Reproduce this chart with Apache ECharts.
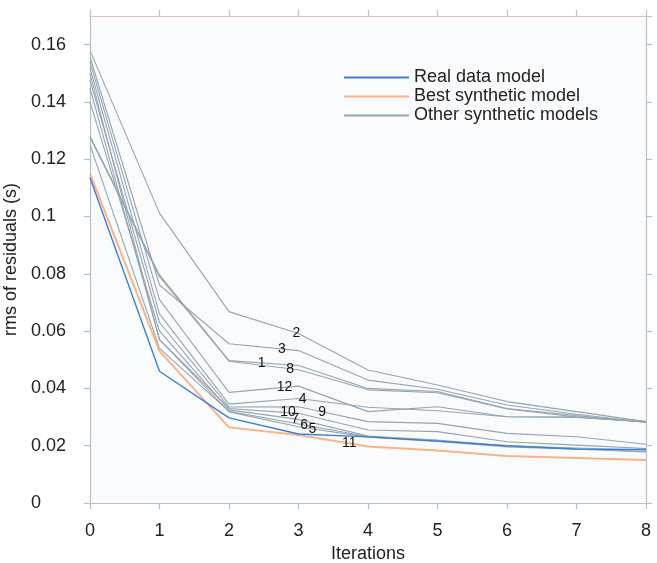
<!DOCTYPE html>
<html>
<head>
<meta charset="utf-8">
<script src="https://cdn.jsdelivr.net/npm/echarts@6/dist/echarts.min.js"></script>
<style>
  html, body { margin: 0; padding: 0; background: #ffffff; }
  #chart { width: 657px; height: 563px; }
</style>
</head>
<body>
<div id="chart"></div>
<script>
// Inversion iterations on the x axis
const iterations = [0, 1, 2, 3, 4, 5, 6, 7, 8];

// rms of residuals (s) for the model built from real data
const realData = [0.1135, 0.046, 0.0297, 0.0241, 0.0231, 0.0216, 0.0200, 0.0188, 0.0187];

// best synthetic model (model 11)
const bestSynthetic = [0.115, 0.053, 0.0264, 0.0237, 0.0197, 0.0183, 0.0164, 0.0157, 0.0150];

// remaining synthetic models
const model1  = [0.128, 0.0796, 0.0497, 0.0480, 0.0400, 0.0389, 0.0330, 0.0305, 0.0282];
const model2  = [0.158, 0.1012, 0.0668, 0.0592, 0.0464, 0.0412, 0.0354, 0.0319, 0.0284];
const model3  = [0.1557, 0.0761, 0.0556, 0.0532, 0.0429, 0.0397, 0.0342, 0.0310, 0.0282];
const model4  = [0.1518, 0.0660, 0.0345, 0.0365, 0.0334, 0.0322, 0.0301, 0.0299, 0.0284];
const model5  = [0.150, 0.0570, 0.0318, 0.0266, 0.0230, 0.0215, 0.0196, 0.0188, 0.0178];
const model6  = [0.125, 0.0540, 0.0320, 0.0276, 0.0232, 0.0218, 0.0198, 0.0190, 0.0180];
const model7  = [0.140, 0.0600, 0.0325, 0.0292, 0.0234, 0.0220, 0.0200, 0.0192, 0.0185];
const model8  = [0.1277, 0.0790, 0.0495, 0.0465, 0.0395, 0.0385, 0.0328, 0.0300, 0.0282];
const model9  = [0.1476, 0.0630, 0.0335, 0.0336, 0.0284, 0.0278, 0.0243, 0.0231, 0.0205];
const model10 = [0.1448, 0.0570, 0.0330, 0.0313, 0.0255, 0.0249, 0.0214, 0.0202, 0.0190];
const model12 = [0.154, 0.0710, 0.0386, 0.0408, 0.0319, 0.0336, 0.0301, 0.0300, 0.0284];

const otherModels = [
  [1, model1], [2, model2], [3, model3], [4, model4], [5, model5], [6, model6],
  [7, model7], [8, model8], [9, model9], [10, model10], [12, model12]
];

// iteration at which each model's number is written on its curve
const labelAt = { 1: 2.47, 2: 2.97, 3: 2.76, 4: 3.06, 5: 3.2, 6: 3.08, 7: 2.95,
                  8: 2.88, 9: 3.34, 10: 2.85, 11: 3.73, 12: 2.8 };

const yTicks = { min: 0, max: 0.17, step: 0.02 };

const FONT = 'Liberation Sans, Arial, Helvetica, sans-serif';
const AXIS_COLOR = '#b7c1cb';
const TOP_COLOR = '#d8c6bd';
const TEXT_COLOR = '#222222';

// value of a curve between two iterations, for placing its number
function valueAt(values, x) {
  const i = Math.min(Math.floor(x), values.length - 2);
  const t = x - i;
  return values[i] + (values[i + 1] - values[i]) * t;
}

function pairs(values) {
  return iterations.map((it, i) => [it, values[i]]);
}

function numberMark(id, values) {
  const x = labelAt[id];
  return {
    symbol: 'circle',
    symbolSize: 0,
    silent: true,
    label: {
      show: true,
      position: 'inside',
      formatter: String(id),
      fontFamily: FONT,
      fontSize: 14,
      color: '#111'
    },
    data: [{ coord: [x, valueAt(values, x)] }]
  };
}

const series = [];
otherModels.forEach(([id, values]) => {
  series.push({
    name: 'Other synthetic models',
    type: 'line',
    data: pairs(values),
    symbol: 'none',
    lineStyle: { color: '#94a5b1', width: 1.1 },
    itemStyle: { color: '#94a5b1' },
    emphasis: { disabled: true },
    markPoint: numberMark(id, values),
    z: 2
  });
});
series.push({
  name: 'Best synthetic model',
  type: 'line',
  data: pairs(bestSynthetic),
  symbol: 'none',
  lineStyle: { color: '#f8b387', width: 2 },
  itemStyle: { color: '#f8b387' },
  emphasis: { disabled: true },
  markPoint: numberMark(11, bestSynthetic),
  z: 3
});
series.push({
  name: 'Real data model',
  type: 'line',
  data: pairs(realData),
  symbol: 'none',
  lineStyle: { color: '#3a7fd6', width: 1.4 },
  itemStyle: { color: '#3a7fd6' },
  emphasis: { disabled: true },
  z: 4
});

function axisStyle(color) {
  return {
    axisLine: { show: true, onZero: false, lineStyle: { color: color, width: 1.2 } },
    axisTick: { show: true, inside: false, length: 6, lineStyle: { color: AXIS_COLOR, width: 1.2 } },
    splitLine: { show: false }
  };
}

const chart = echarts.init(document.getElementById('chart'), null, { renderer: 'canvas' });
chart.setOption({
  backgroundColor: '#ffffff',
  animation: false,
  textStyle: { fontFamily: FONT },
  grid: {
    left: 90, right: 11, top: 16, bottom: 60,
    outerBoundsMode: 'none',
    containLabel: false,
    show: true, backgroundColor: '#fafbfd', borderWidth: 0
  },
  legend: {
    data: ['Real data model', 'Best synthetic model', 'Other synthetic models'],
    orient: 'vertical',
    left: 344,
    top: 68,
    padding: 0,
    itemGap: 0,
    itemWidth: 65,
    itemHeight: 2,
    icon: 'rect',
    selectedMode: false,
    textStyle: { fontFamily: FONT, fontSize: 18, color: TEXT_COLOR, lineHeight: 19 }
  },
  xAxis: [
    Object.assign({
      type: 'value', min: 0, max: 8, interval: 1,
      position: 'bottom',
      name: 'Iterations',
      nameLocation: 'middle',
      nameGap: 33,
      nameTextStyle: { fontFamily: FONT, fontSize: 18, color: TEXT_COLOR },
      axisLabel: { fontFamily: FONT, fontSize: 18, color: TEXT_COLOR, margin: 19 }
    }, axisStyle(AXIS_COLOR)),
    Object.assign({
      type: 'value', min: 0, max: 8, interval: 1,
      position: 'top',
      axisLabel: { show: false }
    }, axisStyle(TOP_COLOR))
  ],
  yAxis: [
    Object.assign({
      type: 'value', min: yTicks.min, max: yTicks.max, interval: yTicks.step,
      position: 'left',
      name: 'rms of residuals (s)',
      nameLocation: 'middle',
      nameGap: 68,
      nameTextStyle: { fontFamily: FONT, fontSize: 18, color: TEXT_COLOR },
      axisLabel: {
        fontFamily: FONT, fontSize: 18, color: TEXT_COLOR, margin: 59,
        align: 'left',
        showMaxLabel: false,
        formatter: v => String(+v.toFixed(2))
      }
    }, axisStyle(AXIS_COLOR)),
    Object.assign({
      type: 'value', min: yTicks.min, max: yTicks.max, interval: yTicks.step,
      position: 'right',
      axisLabel: { show: false }
    }, axisStyle(AXIS_COLOR))
  ],
  series: series
});
</script>
</body>
</html>
